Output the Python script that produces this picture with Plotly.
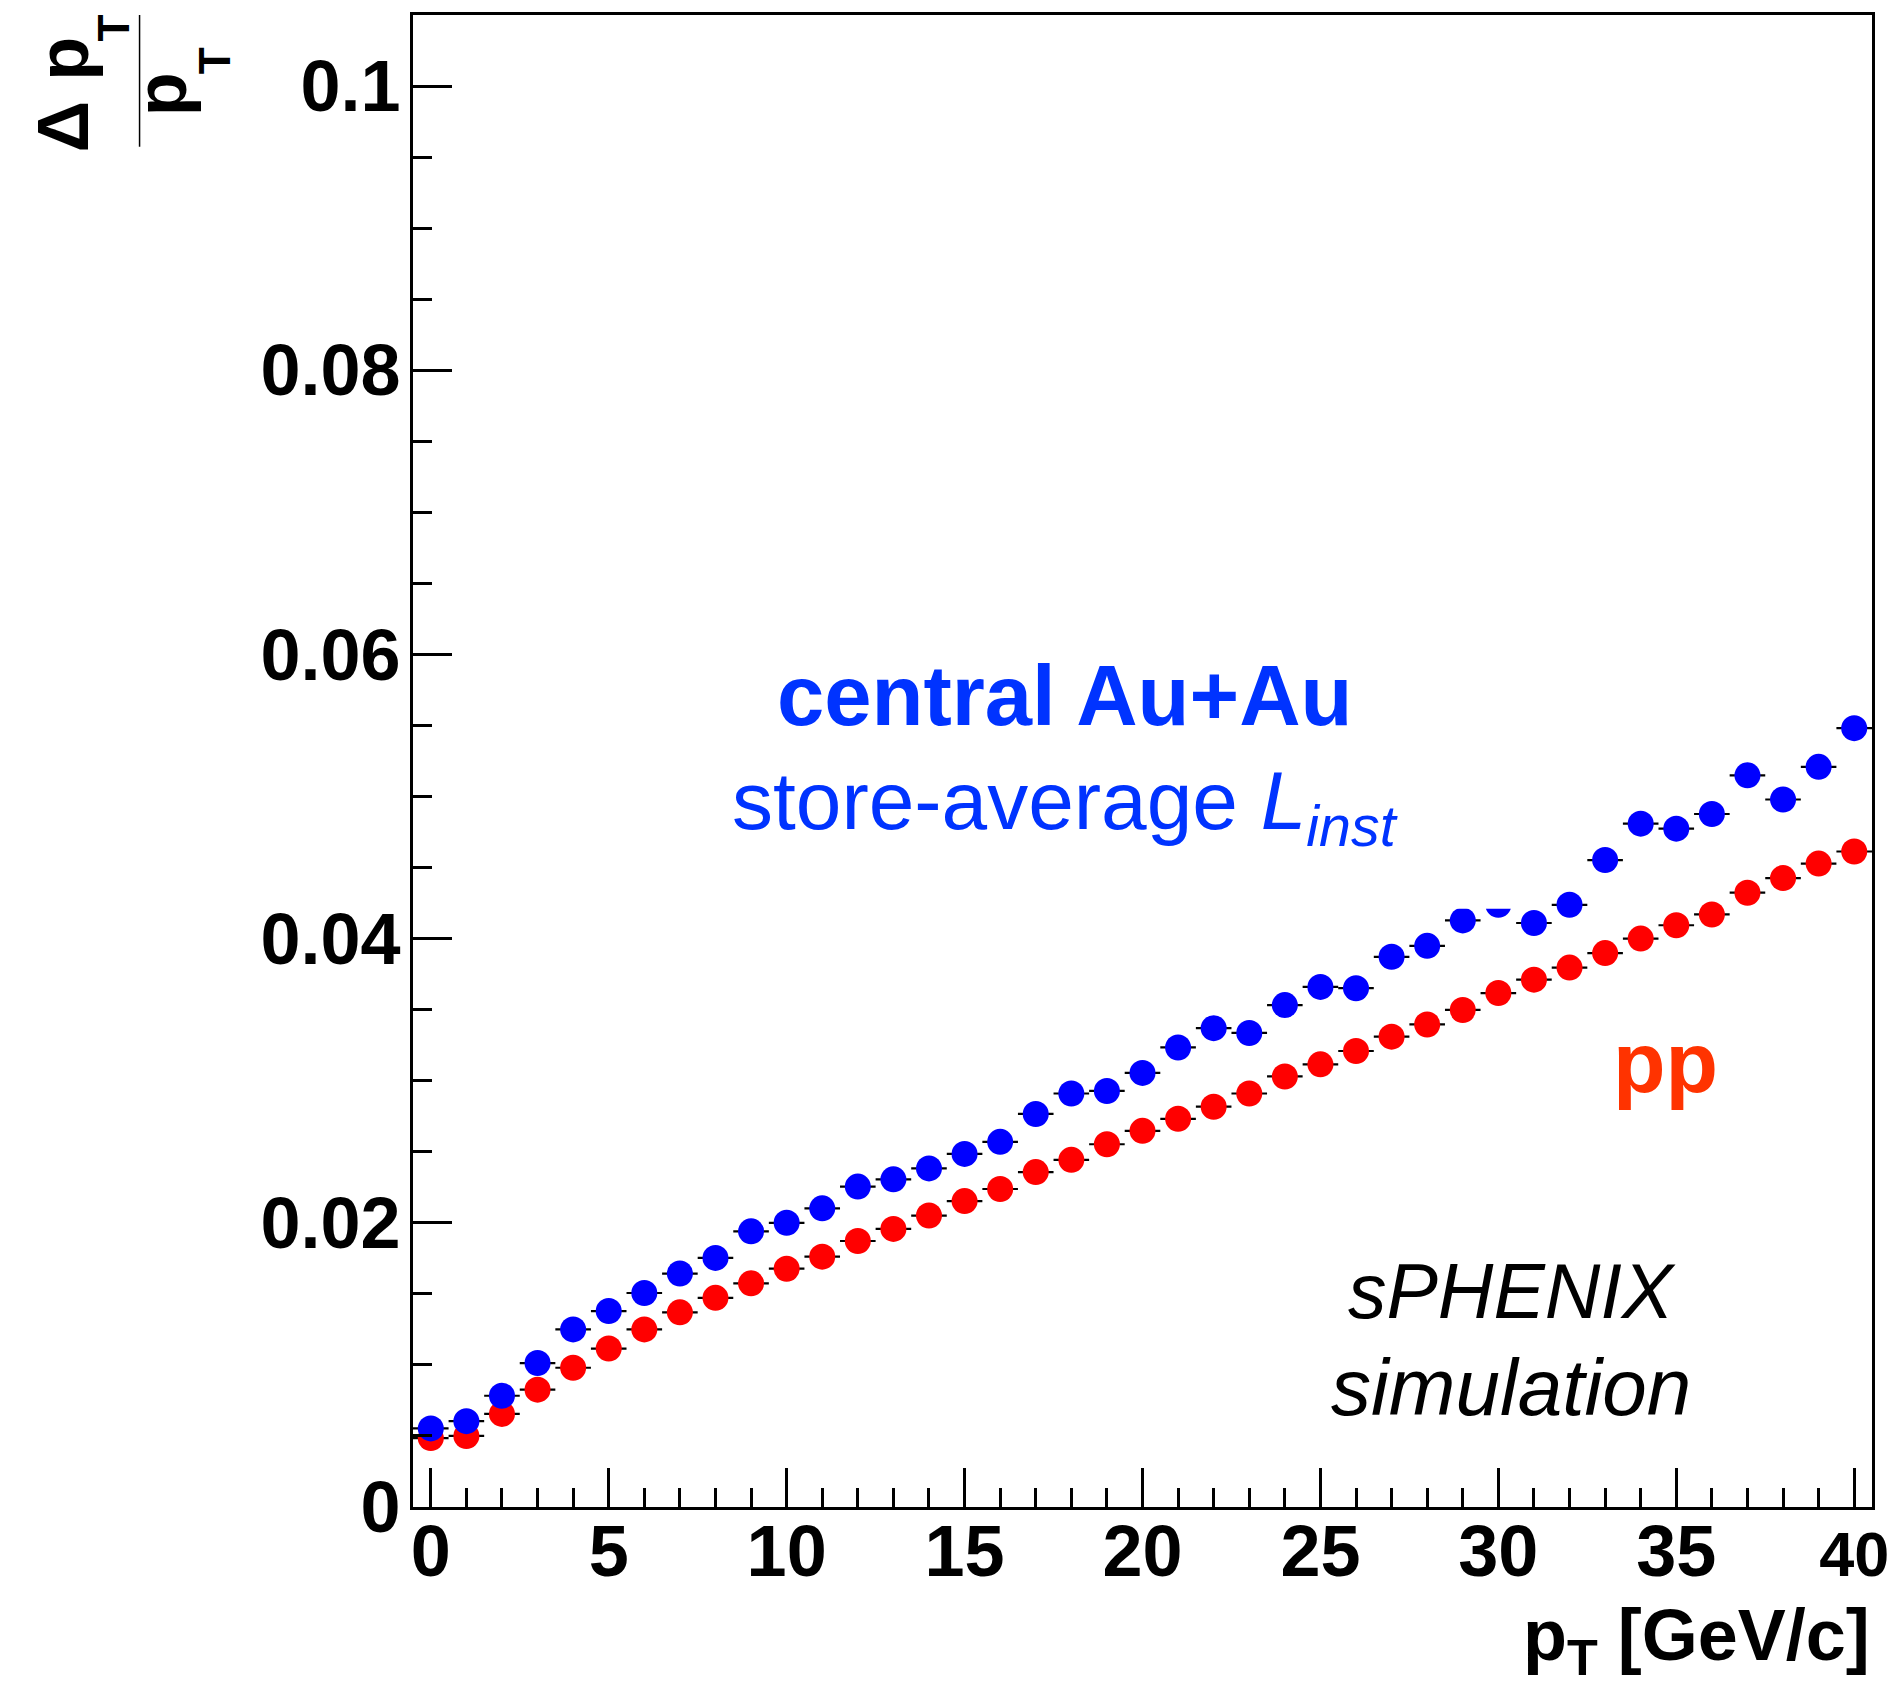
import plotly.graph_objects as go

# ---------------- data ----------------
pt = list(range(0, 41))

pp_res = [0.00485, 0.0050, 0.00655, 0.00826, 0.0098, 0.01115, 0.0125, 0.0137, 0.01472, 0.01574,
          0.01677, 0.01762, 0.01872, 0.01957, 0.02051, 0.02153, 0.02238, 0.02357, 0.02443, 0.02553,
          0.02647, 0.02732, 0.02817, 0.0291, 0.0303, 0.03115, 0.03209, 0.0331, 0.03396, 0.03498,
          0.03617, 0.03711, 0.03796, 0.03898, 0.0400, 0.04094, 0.0417, 0.04323, 0.04426, 0.04528,
          0.04613]

auau_res = [0.00553, 0.00604, 0.00783, 0.01013, 0.0125, 0.01379, 0.01506, 0.01643, 0.01753, 0.0194,
            0.0200, 0.02102, 0.02255, 0.02306, 0.02383, 0.02485, 0.0257, 0.02766, 0.0291, 0.02928,
            0.03055, 0.03234, 0.0337, 0.03336, 0.03532, 0.0366, 0.03651, 0.03872, 0.03949, 0.04128,
            0.04238, 0.0411, 0.04238, 0.04553, 0.04809, 0.04774, 0.04877, 0.05149, 0.04979, 0.05209,
            0.05481]

bin_half_width = [0.5] * len(pt)

x_tickvals = [0, 5, 10, 15, 20, 25, 30, 35, 40]
x_ticktext = ["0", "5", "10", "15", "20", "25", "30", "35", "40"]
y_tickvals = [0, 0.02, 0.04, 0.06, 0.08, 0.1]
y_ticktext = ["0", "0.02", "0.04", "0.06", "0.08", "0.1"]

FONT = "Liberation Sans"

# page geometry (page pixels); the browser body keeps its default 8px margin
BODY = 8
W, H = 1901 - 2 * BODY, 1691 - 2 * BODY
L, R, T, B = 413, 1875, 12, 1507          # plot frame in page pixels
PW, PH = R - L, B - T


def px(x):
    return (x - L) / PW


def py(y):
    return (B - y) / PH


fig = go.Figure()

fig.add_trace(go.Scatter(
    x=pt, y=pp_res, mode="markers", name="pp",
    marker=dict(color="#ff0000", size=26, line=dict(width=0)),
    error_x=dict(type="data", array=bin_half_width, color="black", thickness=2.2, width=0),
    showlegend=False,
))
fig.add_trace(go.Scatter(
    x=pt, y=auau_res, mode="markers", name="central Au+Au",
    marker=dict(color="#0000ff", size=26, line=dict(width=0)),
    error_x=dict(type="data", array=bin_half_width, color="black", thickness=2.2, width=0),
    showlegend=False,
))

# white text box (from the label pave) that hides part of one point
fig.add_shape(type="rect", xref="x", yref="y", x0=10, x1=31, y0=0.0421, y1=0.0600,
              fillcolor="white", line=dict(width=0), layer="above")

# y-title fraction bar
fig.add_shape(type="line", xref="paper", yref="paper",
              x0=px(139), x1=px(139), y0=py(12), y1=py(144),
              line=dict(color="black", width=1.5))

axis_common = dict(
    showgrid=False, zeroline=False, showline=True, linecolor="black", linewidth=3,
    mirror=True, ticks="inside", tickcolor="black", tickwidth=2.5, ticklen=39,
    tickfont=dict(family=FONT, size=72, color="black", weight="bold"),
)

# the last label sits at the very page edge; a slightly smaller size keeps it on the page
x_labels = x_ticktext[:-1] + ["<span style='font-size:63px'>" + x_ticktext[-1] + "</span>"]

fig.update_xaxes(
    range=[-0.5, 40.5], tickvals=x_tickvals, ticktext=x_labels, ticklabelstandoff=-20,
    minor=dict(dtick=1, tick0=0, ticks="inside", ticklen=19, tickwidth=2.5, tickcolor="black"),
    **axis_common,
)
fig.update_yaxes(
    range=[0, 0.105], tickvals=y_tickvals, ticktext=y_ticktext, ticklabelstandoff=-5,
    minor=dict(dtick=0.005, tick0=0, ticks="inside", ticklen=19, tickwidth=2.5, tickcolor="black"),
    **axis_common,
)


def note(text, x, y, size, color="black", bold=False, xanchor="center", angle=0):
    font = dict(family=FONT, size=size, color=color)
    if bold:
        font["weight"] = "bold"
    return dict(text=text, x=px(x), y=py(y), xref="paper", yref="paper", showarrow=False,
                xanchor=xanchor, yanchor="middle", textangle=angle, font=font)


ann = [
    note("central Au+Au", 1066, 694, 85, "#0033ff", bold=True),
    note("store-average <i>L</i><sub><i>inst</i></sub>", 1066, 805, 82, "#0033ff"),
    note("pp", 1668, 1061, 86, "#ff3300", bold=True),
    note("<i>sPHENIX</i>", 1514, 1291, 77),
    note("<i>simulation</i>", 1513, 1387, 80),
    note("p<sub>T</sub> [GeV/c]", 1875, 1641, 72, bold=True, xanchor="right"),
    # y-axis title: fraction  Δp_T / p_T  (rotated)
    note("Δ p", 62, 92, 72, bold=True, angle=-90),
    note("T", 113, 25, 44, bold=True, angle=-90),
    note("p", 160, 92, 72, bold=True, angle=-90),
    note("T", 215, 58, 44, bold=True, angle=-90),
]

fig.update_layout(
    width=W, height=H, autosize=False,
    margin=dict(l=L - BODY, r=(W + BODY) - R, t=T - BODY, b=(H + BODY) - B, pad=0),
    paper_bgcolor="white", plot_bgcolor="white",
    annotations=ann,
    font=dict(family=FONT),
)

fig.write_html("out.html", config={"responsive": False, "displayModeBar": False})
